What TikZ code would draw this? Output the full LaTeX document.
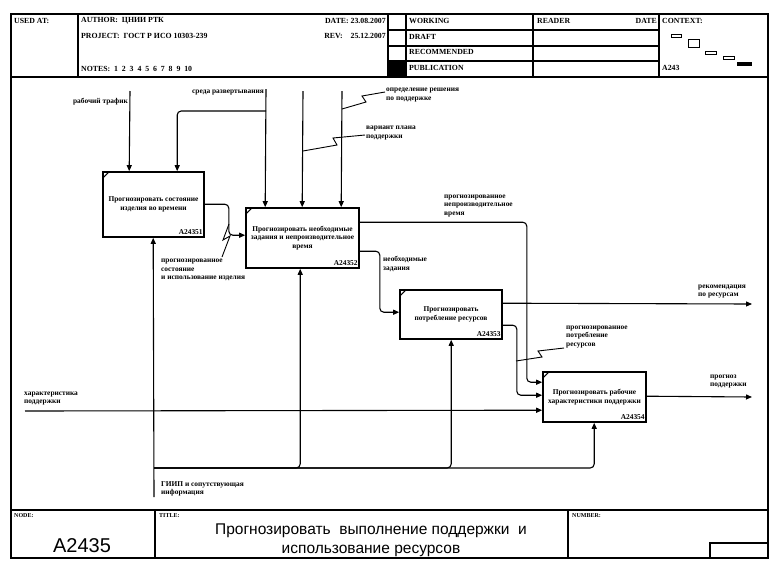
\documentclass[tikz,border=0pt]{standalone}
\usepackage{fontspec}
\setmainfont{Liberation Serif}
\newfontfamily\arialf{Liberation Sans}
\usetikzlibrary{arrows.meta,calc}
\begin{document}
\begin{tikzpicture}[x=1pt,y=-1pt,
  lbl/.style={font=\fontsize{7.4}{8.6}\selectfont\bfseries, inner sep=0pt, align=left},
  hdr/.style={font=\fontsize{7.8}{8}\selectfont\bfseries, inner sep=0pt, anchor=west},
  small/.style={font=\fontsize{6}{6}\selectfont\bfseries, inner sep=0pt, anchor=west},
  proc/.style={draw, line width=1.6pt, inner sep=0pt, align=center,
    font=\fontsize{7.4}{8.6}\selectfont\bfseries},
  pid/.style={font=\fontsize{7.4}{8}\selectfont\bfseries, inner sep=0pt, anchor=south east},
  arr/.style={line width=1.1pt, rounded corners=4pt, -{Triangle[length=6pt,width=5pt]}},
  ln/.style={line width=1.1pt, rounded corners=4pt},
  sq/.style={line width=0.9pt},
  frm/.style={line width=1.3pt},
  tick/.style={line width=1.1pt}
  ]
\useasboundingbox (0,0) rectangle (778,571);
% ---------- frame ----------
\draw[frm] (11,14) rectangle (768,558);
\draw[frm] (11,77) -- (768,77);
\draw[frm] (11,510) -- (768,510);
% header columns
\draw[frm] (78,14) -- (78,77);
\draw[frm] (388,14) -- (388,77);
\draw[frm] (406,14) -- (406,77);
\draw[frm] (533,14) -- (533,77);
\draw[frm] (659,14) -- (659,77);
\foreach \yy in {30,46,61} \draw[frm] (388,\yy) -- (659,\yy);
\fill (388,61) rectangle (406,77);
% bottom columns
\draw[frm] (155,510) -- (155,558);
\draw[frm] (568,510) -- (568,558);
\draw[frm] (710,543) rectangle (768,558);
% context glyphs
\draw[line width=0.8pt] (671,34) rectangle (681,37);
\draw[line width=0.8pt] (688,39) rectangle (699,47);
\draw[line width=0.8pt] (705,51) rectangle (716,54);
\draw[line width=0.8pt] (723,56) rectangle (734,59);
\fill (737,62) rectangle (752,66);
% header texts
\node[hdr] (usedat) at (14,21) {USED AT:};
\node[hdr] (author) at (81,21) {AUTHOR:\ \ ЦНИИ РТК};
\node[hdr, anchor=east] (date) at (386,21) {DATE:\ 23.08.2007};
\node[hdr] (project) at (81,36) {PROJECT:\ \ ГОСТ Р ИСО 10303-239};
\node[hdr, anchor=east] (rev) at (386,36) {REV:\hspace{8pt}25.12.2007};
\node[hdr] (notes) at (81,69) {NOTES:\ \ 1\ \ 2\ \ 3\ \ 4\ \ 5\ \ 6\ \ 7\ \ 8\ \ 9\ \ 10};
\node[hdr] (working) at (409,21) {WORKING};
\node[hdr] (draft) at (409,37) {DRAFT};
\node[hdr] (recom) at (409,52) {RECOMMENDED};
\node[hdr] (public) at (409,68) {PUBLICATION};
\node[hdr] (reader) at (537,21) {READER};
\node[hdr, anchor=east] (rdate) at (657,21) {DATE};
\node[hdr] (context) at (662,21) {CONTEXT:};
\node[hdr] (ctxnode) at (662,68) {A243};
% bottom texts
\node[small] (nodelbl) at (14,516) {NODE:};
\node[small] (titlelbl) at (159,516) {TITLE:};
\node[small] (numlbl) at (572,516) {NUMBER:};
\node[font=\arialf\fontsize{20}{22}\selectfont, inner sep=0pt] (nodenum) at (82,546) {A2435};
\node[font=\arialf\fontsize{15.5}{19}\selectfont, inner sep=0pt, align=center] (title) at (371,540)
  {Прогнозировать\ \ выполнение поддержки\ \ и\\использование ресурсов};
% ---------- processes ----------
\node[proc, minimum width=101pt, minimum height=65pt] (b1) at (153.5,204.5)
  {Прогнозировать состояние\\изделия во времени};
\node[proc, minimum width=113pt, minimum height=60pt] (b2) at (302.5,238)
  {Прогнозировать необходимые\\задания и непроизводительное\\время};
\node[proc, minimum width=102pt, minimum height=49pt] (b3) at (451,314.5)
  {Прогнозировать\\потребление ресурсов};
\node[proc, minimum width=103pt, minimum height=50pt] (b4) at (594.5,397)
  {Прогнозировать рабочие\\характеристики поддержки};
\node[pid] (b1id) at ($(b1.south east)+(-2,-3)$) {A24351};
\node[pid] (b2id) at ($(b2.south east)+(-2,-3)$) {A24352};
\node[pid] (b3id) at ($(b3.south east)+(-2,-3)$) {A24353};
\node[pid] (b4id) at ($(b4.south east)+(-2,-3)$) {A24354};
\foreach \b in {b1,b2,b3,b4}
  \draw[tick] ($(\b.north west)+(1.5,6)$) -- ($(\b.north west)+(6,1.5)$);
% ---------- free ends ----------
\coordinate (tA) at (130,91);
\coordinate (tB) at (266,89);
\coordinate (tC) at (303,91);
\coordinate (tD) at (342,91);
\coordinate (lJ) at (25,411);
\coordinate (oH) at (752,304);
\coordinate (oK) at (752,397);
\coordinate (mS) at (154,497);
\coordinate (sj) at (266,111);
\coordinate (mj) at (154,468);
% ---------- controls ----------
\draw[arr] (tA) -- ($(b1.north west)+(27,0)$);
\draw[arr] (tB) -- ($(b2.north west)+(20,0)$);
\draw[arr] (sj) -| ($(b1.north west)+(75,0)$);
\draw[arr] (tC) -- ($(b2.north west)+(57,0)$);
\draw[arr] (tD) -- ($(b2.north west)+(96,0)$);
% ---------- internal flows ----------
\draw[arr] ($(b1.north east)+(0,33)$) -- ++(24,0) |- ($(b2.north west)+(0,28)$);
\draw[arr] ($(b2.north east)+(0,15)$) -- ++(167,0) |- ($(b4.north west)+(0,11)$);
\draw[arr] ($(b2.north east)+(0,44)$) -- ++(20,0) |- ($(b3.north west)+(0,23)$);
\draw[arr] ($(b3.north east)+(0,14)$) -- (oH);
\draw[arr] ($(b3.north east)+(0,36)$) -- ++(14,0) |- ($(b4.north west)+(0,24)$);
\draw[arr] (lJ) -- ($(b4.north west)+(0,39)$);
\draw[arr] ($(b4.north east)+(0,25)$) -- (oK);
% ---------- mechanisms ----------
\draw[arr] (mS) -- ($(b1.south west)+(51,0)$);
\draw[arr] (mj) -| ($(b2.south west)+(55,0)$);
\draw[arr] (mj) -| ($(b3.south west)+(52,0)$);
\draw[arr] (mj) -| ($(b4.south west)+(52,0)$);
% ---------- labels ----------
\node[lbl, anchor=east] (lA) at (128,102) {рабочий трафик};
\node[lbl, anchor=east] (lB) at (264,93) {среда развертывания};
\node[lbl, anchor=west] (lD) at (386,95) {определение решения\\по поддержке};
\node[lbl, anchor=west] (lC) at (366,133) {вариант плана\\поддержки};
\node[lbl, anchor=west] (lF) at (444,206) {прогнозированное\\непроизводительное\\время};
\node[lbl, anchor=west] (lG) at (383,264) {необходимые\\задания};
\node[lbl, anchor=west] (lH) at (698,291.5) {рекомендация\\по ресурсам};
\node[lbl, anchor=west] (lI) at (566,337) {прогнозированное\\потребление\\ресурсов};
\node[lbl, anchor=west] (lK) at (710,381.5) {прогноз\\поддержки};
\node[lbl, anchor=west] (lJt) at (24,398.5) {характеристика\\поддержки};
\node[lbl, anchor=west] (lE) at (161,270) {прогнозированное\\состояние\\и использование изделия};
\node[lbl, anchor=west] (lM) at (161,489) {ГИИП и сопутствующая\\информация};
% ---------- squiggles ----------
\draw[sq] (342,109) -- (366,102) -- (362,96) -- (385,92);
\draw[sq] (303,151) -- (337,145) -- (333,138) -- (365,135);
\draw[sq] (229,224) -- (223,240) -- (230,236) -- (222,257);
\draw[sq] (516,361) -- (542,357) -- (538,351) -- (564,348);
\end{tikzpicture}
\end{document}
